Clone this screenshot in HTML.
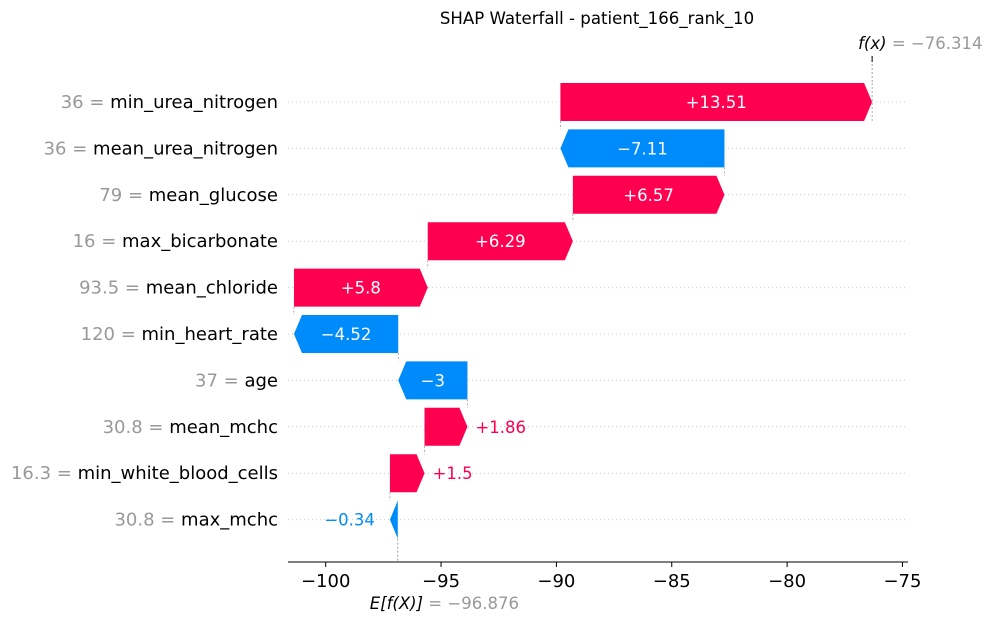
<!DOCTYPE html>
<html><head><meta charset="utf-8"><style>
html,body{margin:0;padding:0;background:#fff;}
svg{display:block;font-family:"DejaVu Sans","Liberation Sans",sans-serif;}
</style></head><body>
<svg id="chart" width="992" height="622"></svg>
<script>
const features = ["min_urea_nitrogen","mean_urea_nitrogen","mean_glucose","max_bicarbonate","mean_chloride","min_heart_rate","age","mean_mchc","min_white_blood_cells","max_mchc"];
const featureValues = ["36","36","79","16","93.5","120","37","30.8","16.3","30.8"];
const shapValues = [13.51,-7.11,6.57,6.29,5.8,-4.52,-3,1.86,1.5,-0.34];
const valueLabels = ["+13.51","\u22127.11","+6.57","+6.29","+5.8","\u22124.52","\u22123","+1.86","+1.5","\u22120.34"];
const baseValue = -96.876;
const fxValue = -76.314;
const xTicks = [-100,-95,-90,-85,-80,-75];
const xTickLabels = ["\u2212100","\u221295","\u221290","\u221285","\u221280","\u221275"];

const NS="http://www.w3.org/2000/svg";
const svg=document.getElementById('chart');
function X(v){return 325.7+(v+100)*23.07;}
function Y(i){return 102+i*46.4;}
function mk(tag,attrs,parent){const e=document.createElementNS(NS,tag);for(const k in attrs)e.setAttribute(k,attrs[k]);(parent||svg).appendChild(e);return e;}
const RED="#ff0051",BLUE="#008bfb";
const n=features.length;

let t=mk('text',{x:597,y:24,'text-anchor':'middle','font-size':16.6,fill:'#000'});t.textContent="SHAP Waterfall - patient_166_rank_10";



for(let i=0;i<n;i++){
  const g=mk('line',{x1:288,x2:908,y1:Y(i),y2:Y(i),stroke:'#ccc','stroke-width':1,'stroke-dasharray':'1,3'});
  
  
}

let ends=new Array(n), starts=new Array(n);
let cur=baseValue;
for(let i=n-1;i>=0;i--){starts[i]=cur;cur=cur+shapValues[i];ends[i]=cur;}

let l=mk('line',{x1:X(fxValue),x2:X(fxValue),y1:56,y2:Y(0)-19,stroke:'#888','stroke-width':0.8,'stroke-dasharray':'2,2'});

mk('line',{x1:X(fxValue),x2:X(fxValue),y1:56,y2:62,stroke:'#000','stroke-width':1});
l=mk('line',{x1:X(baseValue),x2:X(baseValue),y1:Y(n-1)+19,y2:562,stroke:'#888','stroke-width':0.8,'stroke-dasharray':'2,2'});


for(let i=0;i<n-1;i++){
  const c=mk('line',{x1:X(starts[i]),x2:X(starts[i]),y1:Y(i)+19,y2:Y(i+1)-19,stroke:'#999','stroke-width':0.8,'stroke-dasharray':'2,2'});
  
  
}
mk('line',{x1:X(fxValue),x2:X(fxValue),y1:Y(0)-19,y2:Y(0)+19,stroke:'#999','stroke-width':0.8,'stroke-dasharray':'2,2'});

for(let i=0;i<n;i++){
  const s=X(starts[i]),e=X(ends[i]),y=Y(i),h=19;
  const pos=shapValues[i]>0, col=pos?RED:BLUE;
  const len=Math.abs(e-s), head=Math.min(8,len);
  let pts;
  if(pos){pts=[[s,y-h],[e-head,y-h],[e,y],[e-head,y+h],[s,y+h]];}
  else{pts=[[s,y-h],[e+head,y-h],[e,y],[e+head,y+h],[s,y+h]];}
  const p=mk('polygon',{points:pts.map(q=>q.join(',')).join(' '),fill:col});
  
  
  const lbl=mk('text',{y:y+6,'font-size':16.5});
  lbl.textContent=valueLabels[i];
  if(len>60){lbl.setAttribute('x',(s+e)/2);lbl.setAttribute('text-anchor','middle');lbl.setAttribute('fill','#fff');}
  else if(pos){lbl.setAttribute('x',Math.max(s,e)+8);lbl.setAttribute('fill',col);}
  else{lbl.setAttribute('x',Math.min(s,e)-15);lbl.setAttribute('text-anchor','end');lbl.setAttribute('fill',col);}
  
  
  const yl=mk('text',{x:278,y:y+6,'text-anchor':'end','font-size':18});
  const a=mk('tspan',{fill:'#999'},yl);a.textContent=featureValues[i]+" = ";
  const b=mk('tspan',{fill:'#000'},yl);b.textContent=features[i];
  
  
}

let ax=mk('line',{x1:288,x2:908,y1:562,y2:562,stroke:'#000','stroke-width':1});

for(let i=0;i<xTicks.length;i++){
  const x=X(xTicks[i]);
  mk('line',{x1:x,x2:x,y1:562,y2:567,stroke:'#000','stroke-width':1});
  const tl=mk('text',{x:x,y:587,'text-anchor':'middle','font-size':18,fill:'#000'});
  tl.textContent=xTickLabels[i];
  
  
}
let el=mk('text',{x:X(baseValue)-28,y:609,'font-size':16.5});
let e1=mk('tspan',{fill:'#000','font-style':'italic'},el);e1.textContent="E[f(X)]";
let e2=mk('tspan',{fill:'#999'},el);e2.textContent=" = \u2212"+Math.abs(baseValue).toFixed(3);

let fl=mk('text',{x:X(fxValue)-14,y:49,'font-size':16.5});
let f1=mk('tspan',{fill:'#000','font-style':'italic'},fl);f1.textContent="f(x)";
let f2=mk('tspan',{fill:'#999'},fl);f2.textContent=" = \u2212"+Math.abs(fxValue).toFixed(3);

</script>
</body></html>
